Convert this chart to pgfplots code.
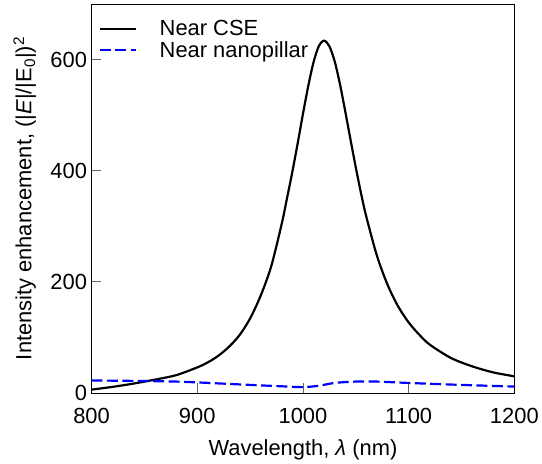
\documentclass[border=0pt]{standalone}
\usepackage{fontspec}
\setmainfont{Liberation Sans}
\usepackage{pgfplots}
\pgfplotsset{compat=1.18}
\begin{document}
\begin{tikzpicture}
\begin{axis}[
  scale only axis,
  width=425pt, height=391pt,
  xmin=800, xmax=1200, ymin=0, ymax=700,
  xtick={800,900,1000,1100,1200},
  xticklabels={800,900,1000,1100,1200},
  ytick={0,200,400,600},
  yticklabels={0,200,400,600},
  tick align=inside,
  xtick pos=bottom, ytick pos=left,
  major tick length=10pt,
  tick style={line width=0.8pt, color=black!60},
  axis line style={line width=0.9pt},
  every axis plot/.append style={line width=2.2pt},
  xticklabel style={font=\fontsize{22}{26}\selectfont, yshift=-12pt},
  yticklabel style={font=\fontsize{22}{26}\selectfont, xshift=-1pt},
  label style={font=\fontsize{22}{26}\selectfont},
  xlabel={Wavelength, \textit{λ} (nm)},
  ylabel={Intensity enhancement, (|\textit{E}|/|E\textsubscript{0}|)\textsuperscript{2}},
  xlabel style={at={(axis description cs:0.5,-0.112)}, anchor=north},
  ylabel style={at={(axis description cs:-0.158,0.5)}, anchor=center},
  legend style={draw=none, fill=none, at={(0.01,0.968)}, anchor=north west,
    font=\fontsize{22}{26}\selectfont, row sep=0pt},
  legend cell align=left,
  legend image code/.code={\draw[#1] (0pt,0pt) -- (36pt,0pt); \path[draw=none] (0pt,0pt) -- (58pt,0pt);},
]
\addplot[black, smooth, tension=0.5] coordinates {
(800,6) (820,11) (840,17) (860,24) (880,32) (900,46) (910,55) (920,67)
(930,83) (940,104) (950,134) (960,175) (970,228) (980,305) (985,351)
(990,398) (995,449) (1000,502) (1005,552) (1010,595) (1015,624) (1020,634)
(1025,624) (1030,597) (1035,556) (1040,507) (1045,456) (1050,406) (1055,359)
(1060,317) (1070,247) (1080,195) (1090,156) (1100,127) (1110,105) (1120,87)
(1140,63) (1160,48) (1180,37) (1200,30)
};
\addlegendentry{Near CSE}
\addplot[blue, dash pattern=on 11pt off 4.5pt, smooth] coordinates {
(800,22.5) (850,21.5) (880,20.5) (900,19) (950,14.5) (980,12) (1000,10.5)
(1015,13) (1030,18) (1050,20.5) (1070,20.5) (1100,18) (1150,14.5) (1200,11.5)
};
\addlegendentry{Near nanopillar}
\end{axis}
\path[draw=none] (-92pt,-71pt) rectangle (450pt,395pt);
\end{tikzpicture}
\end{document}
